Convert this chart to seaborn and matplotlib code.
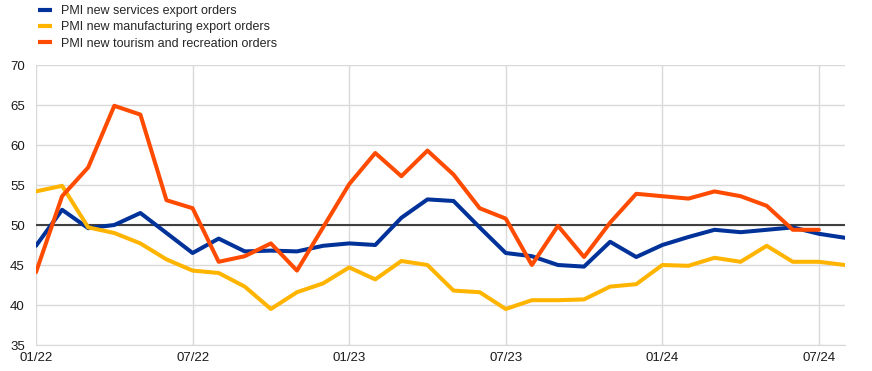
import matplotlib
matplotlib.use("Agg")
import matplotlib.pyplot as plt
import seaborn as sns
import pandas as pd
import numpy as np

months = ["01/22","02/22","03/22","04/22","05/22","06/22","07/22","08/22","09/22","10/22","11/22","12/22",
          "01/23","02/23","03/23","04/23","05/23","06/23","07/23","08/23","09/23","10/23","11/23","12/23",
          "01/24","02/24","03/24","04/24","05/24","06/24","07/24","08/24"]

services = [47.4, 51.9, 49.6, 50.0, 51.5, 49.0, 46.5, 48.3, 46.7, 46.8, 46.7, 47.4,
            47.7, 47.5, 50.9, 53.2, 53.0, 49.7, 46.5, 46.1, 45.0, 44.8, 47.9, 46.0,
            47.5, 48.5, 49.4, 49.1, 49.4, 49.7, 48.9, 48.4]
manufacturing = [54.2, 54.9, 49.7, 49.0, 47.7, 45.7, 44.3, 44.0, 42.3, 39.5, 41.6, 42.7,
                 44.7, 43.2, 45.5, 45.0, 41.8, 41.6, 39.5, 40.6, 40.6, 40.7, 42.3, 42.6,
                 45.0, 44.9, 45.9, 45.4, 47.4, 45.4, 45.4, 45.0]
tourism = [44.1, 53.6, 57.2, 64.9, 63.8, 53.1, 52.1, 45.4, 46.1, 47.7, 44.3, 49.7,
           55.1, 59.0, 56.1, 59.3, 56.3, 52.1, 50.8, 45.0, 49.9, 46.0, 50.3, 53.9,
           53.6, 53.3, 54.2, 53.6, 52.4, 49.4, 49.4]

series_names = ["PMI new services export orders",
                "PMI new manufacturing export orders",
                "PMI new tourism and recreation orders"]
colors = ["#003299", "#FFB400", "#FF4B00"]

tick_labels = ["01/22", "07/22", "01/23", "07/23", "01/24", "07/24"]

rows = []
for name, vals in zip(series_names, [services, manufacturing, tourism]):
    for i, v in enumerate(vals):
        rows.append({"t": i, "value": v, "series": name})
df = pd.DataFrame(rows)

sns.set_style("white")
plt.rcParams['font.family'] = ['Liberation Sans', 'DejaVu Sans']

fig = plt.figure(figsize=(8.72, 3.71), dpi=100)
ax = fig.add_axes([36/872, 1-345/371, (845-36)/872, (345-65)/371])

sns.lineplot(data=df, x="t", y="value", hue="series", hue_order=series_names,
             palette=colors, linewidth=2.9, ax=ax, legend=False, zorder=3)

ax.axhline(50, color="#404040", linewidth=1.5, zorder=2)

ax.set_xlim(0, 31)
ax.set_ylim(35, 70)
ax.set_yticks(range(35, 71, 5))
tick_pos = [months.index(m) for m in tick_labels]
ax.set_xticks(tick_pos)
ax.set_xticklabels(tick_labels)
ax.grid(True, color="#d9d9d9", linewidth=1.0, zorder=0)
ax.set_axisbelow(True)
for s in ["top", "right", "left"]:
    ax.spines[s].set_visible(False)
ax.spines["bottom"].set_color("#d9d9d9")
ax.tick_params(axis="both", length=0, labelsize=9.5, colors="#1a1a1a")
ax.tick_params(axis="y", pad=8)
ax.tick_params(axis="x", pad=5)
ax.set_xlabel("")
ax.set_ylabel("")

from matplotlib.lines import Line2D
handles = [Line2D([0], [0], color=c, linewidth=3.0, solid_capstyle="butt") for c in colors]
fig.legend(handles, series_names, loc="upper left", bbox_to_anchor=(38/872, 1 - 5/371),
           frameon=False, fontsize=9, handlelength=1.15, handletextpad=0.65,
           labelspacing=0.35, borderaxespad=0.0, borderpad=0.0)

fig.savefig("out.png", dpi=100)
